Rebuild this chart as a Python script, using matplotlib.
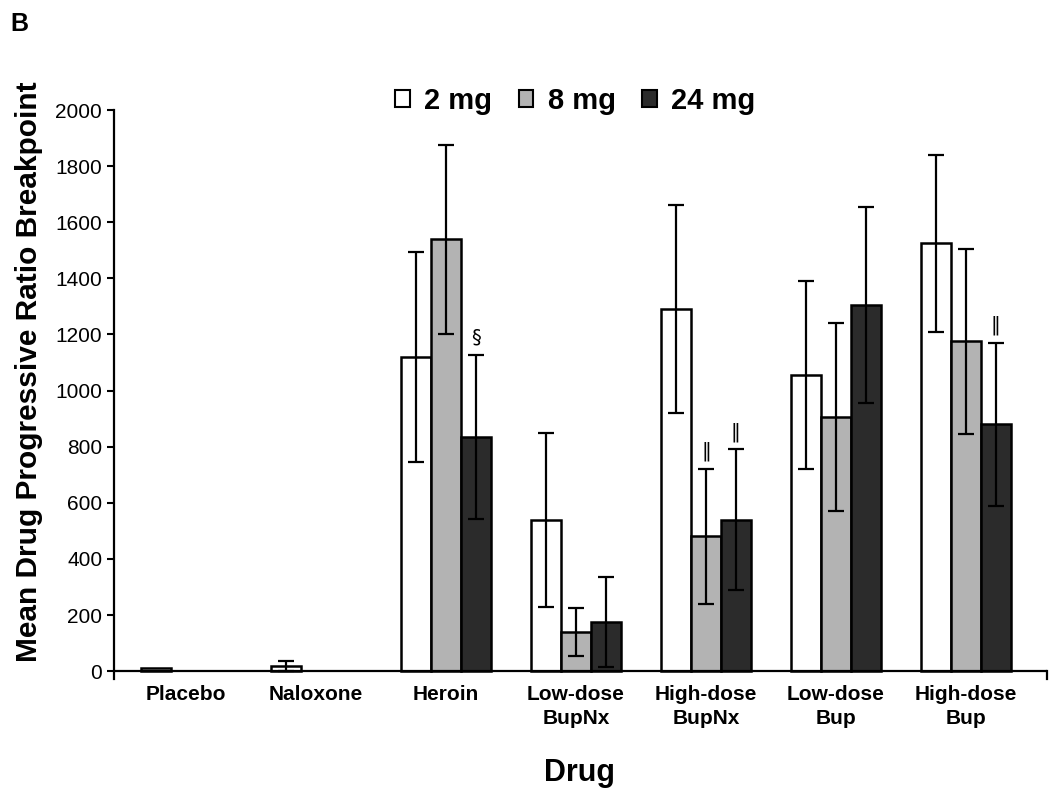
import matplotlib
matplotlib.use("Agg")
import matplotlib.pyplot as plt
import numpy as np
from matplotlib.patches import Patch

plt.rcParams["font.family"] = ["Liberation Sans", "DejaVu Sans"]

drugs = ["Placebo", "Naloxone", "Heroin", "Low-dose\nBupNx", "High-dose\nBupNx",
         "Low-dose\nBup", "High-dose\nBup"]
doses = ["2 mg", "8 mg", "24 mg"]

# means per dose (NaN = no bar)
mean_2mg = [12, 18, 1120, 540, 1290, 1055, 1525]
mean_8mg = [np.nan, np.nan, 1540, 140, 480, 905, 1175]
mean_24mg = [np.nan, np.nan, 835, 175, 540, 1305, 880]
err_2mg = [0, 18, 375, 310, 370, 335, 315]
err_8mg = [np.nan, np.nan, 337, 85, 240, 335, 330]
err_24mg = [np.nan, np.nan, 293, 160, 250, 350, 290]

# significance marks: (drug index, dose index, symbol)
marks = [(2, 2, "\u00a7"), (4, 1, "\u2016"), (4, 2, "\u2016"), (6, 2, "\u2016")]

means = [mean_2mg, mean_8mg, mean_24mg]
errs = [err_2mg, err_8mg, err_24mg]
colors = ["white", "#b3b3b3", "#2b2b2b"]

fig = plt.figure(figsize=(10.5, 7.92), dpi=100)
ax = fig.add_axes([0.1086, 0.1427, 0.8884, 0.7184])

x = np.arange(len(drugs))
w = 0.23
for i in range(3):
    pos = x + (i - 1) * w
    m = np.array(means[i], dtype=float)
    e = np.array(errs[i], dtype=float)
    ax.bar(pos, m, width=w, color=colors[i], edgecolor="black", linewidth=1.8, zorder=2)
    ok = ~np.isnan(m) & (e > 0)
    ax.errorbar(pos[ok], m[ok], yerr=e[ok], fmt="none", ecolor="black",
                elinewidth=1.6, capsize=6, capthick=1.6, zorder=3)

for d, s, sym in marks:
    top = means[s][d] + errs[s][d]
    ax.text(x[d] + (s - 1) * w, top + 62, sym, ha="center", va="center",
            fontsize=14, family=["DejaVu Sans"])

ax.set_xlim(-0.554, 6.623)
ax.set_ylim(-28, 2000)
ax.set_yticks(np.arange(0, 2001, 200))
ax.tick_params(axis="y", labelsize=15, length=5, width=1.5, direction="out")
ax.set_xticks(x)
ax.set_xticklabels(drugs, fontsize=15, fontweight="bold", linespacing=1.35)
ax.tick_params(axis="x", length=0, pad=4)

ax.spines["top"].set_visible(False)
ax.spines["bottom"].set_visible(False)
ax.spines["left"].set_linewidth(1.6)
ax.spines["right"].set_linewidth(1.6)
ax.spines["right"].set_bounds(-28, 0)
ax.axhline(0, color="black", linewidth=1.6, zorder=4)

ax.set_ylabel("Mean Drug Progressive Ratio Breakpoint", fontsize=21.5,
              fontweight="bold")
ax.yaxis.set_label_coords(-0.076, 0.54)
fig.text(0.552, 0.024, "Drug", fontsize=22, fontweight="bold", ha="center", va="center")

handles = [Patch(facecolor=c, edgecolor="black", linewidth=1.5) for c in colors]
fig.legend(handles, doses, loc="center", bbox_to_anchor=(0.548, 0.873), ncol=3,
           frameon=False, prop={"size": 21, "weight": "bold"},
           handlelength=0.5, handleheight=0.5, handletextpad=0.5,
           columnspacing=0.9)

fig.text(0.01, 0.985, "B", fontsize=18, fontweight="bold", va="top")

fig.savefig("out.png", dpi=100)
